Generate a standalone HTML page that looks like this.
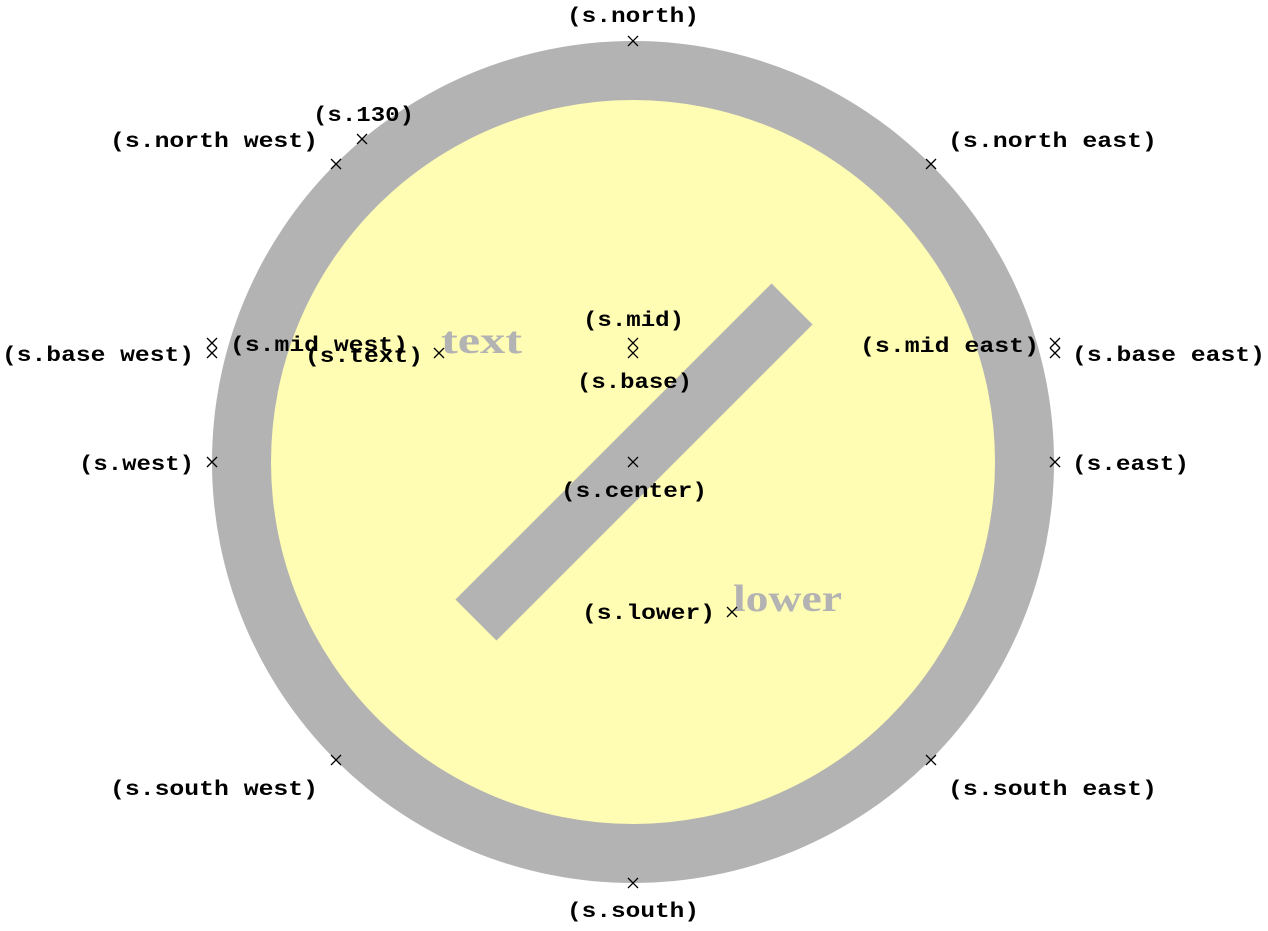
<!DOCTYPE html>
<html><head><style>html,body{margin:0;padding:0;background:#fff}</style></head><body>
<svg width="1268" height="926" viewBox="0 0 1268 926" xmlns="http://www.w3.org/2000/svg">
<circle cx="633" cy="462" r="421" fill="#b3b3b3"/>
<circle cx="633" cy="462" r="362" fill="#fffcb3"/>
<rect x="-223.5" y="-29" width="447" height="58" fill="#b3b3b3" transform="translate(634,462) rotate(-45)"/>
<g font-family="Liberation Serif, serif" font-weight="bold" font-size="38" fill="#b3b3b3">
<text x="441" y="353" textLength="81" lengthAdjust="spacingAndGlyphs">text</text>
<text x="733" y="611" textLength="109" lengthAdjust="spacingAndGlyphs">lower</text>
</g>
<g stroke="#000" stroke-width="1.3" fill="none">
<path id="x" d=""/>
</g>
<g stroke="#000" stroke-width="1.3">
<script></script>
<path d="M628,36l10,10M638,36l-10,10
M331,159l10,10M341,159l-10,10
M357,134l10,10M367,134l-10,10
M926,159l10,10M936,159l-10,10
M207,338l10,10M217,338l-10,10
M207,348l10,10M217,348l-10,10
M434,348l10,10M444,348l-10,10
M628,338l10,10M638,338l-10,10
M628,348l10,10M638,348l-10,10
M628,457l10,10M638,457l-10,10
M1050,338l10,10M1060,338l-10,10
M1050,348l10,10M1060,348l-10,10
M207,457l10,10M217,457l-10,10
M1050,457l10,10M1060,457l-10,10
M727,607l10,10M737,607l-10,10
M331,755l10,10M341,755l-10,10
M926,755l10,10M936,755l-10,10
M628,878l10,10M638,878l-10,10"/>
</g>
<g font-family="Liberation Mono, monospace" font-weight="bold" font-size="21" fill="#000" lengthAdjust="spacingAndGlyphs">
<text x="567" y="22" textLength="132" lengthAdjust="spacingAndGlyphs">(s.north)</text>
<text x="110" y="147" textLength="208" lengthAdjust="spacingAndGlyphs">(s.north west)</text>
<text x="313" y="121" textLength="101" lengthAdjust="spacingAndGlyphs">(s.130)</text>
<text x="948" y="147" textLength="209" lengthAdjust="spacingAndGlyphs">(s.north east)</text>
<text x="2" y="361" textLength="192" lengthAdjust="spacingAndGlyphs">(s.base west)</text>
<text x="230" y="351" textLength="178" lengthAdjust="spacingAndGlyphs">(s.mid west)</text>
<text x="305" y="362" textLength="118" lengthAdjust="spacingAndGlyphs">(s.text)</text>
<text x="583" y="326" textLength="101" lengthAdjust="spacingAndGlyphs">(s.mid)</text>
<text x="577" y="388" textLength="115" lengthAdjust="spacingAndGlyphs">(s.base)</text>
<text x="561" y="497" textLength="146" lengthAdjust="spacingAndGlyphs">(s.center)</text>
<text x="860" y="352" textLength="179" lengthAdjust="spacingAndGlyphs">(s.mid east)</text>
<text x="1072" y="361" textLength="193" lengthAdjust="spacingAndGlyphs">(s.base east)</text>
<text x="79" y="470" textLength="115" lengthAdjust="spacingAndGlyphs">(s.west)</text>
<text x="1072" y="470" textLength="117" lengthAdjust="spacingAndGlyphs">(s.east)</text>
<text x="582" y="619" textLength="133" lengthAdjust="spacingAndGlyphs">(s.lower)</text>
<text x="110" y="795" textLength="208" lengthAdjust="spacingAndGlyphs">(s.south west)</text>
<text x="948" y="795" textLength="209" lengthAdjust="spacingAndGlyphs">(s.south east)</text>
<text x="567" y="917" textLength="132" lengthAdjust="spacingAndGlyphs">(s.south)</text>
</g>
</svg>
</body></html>
